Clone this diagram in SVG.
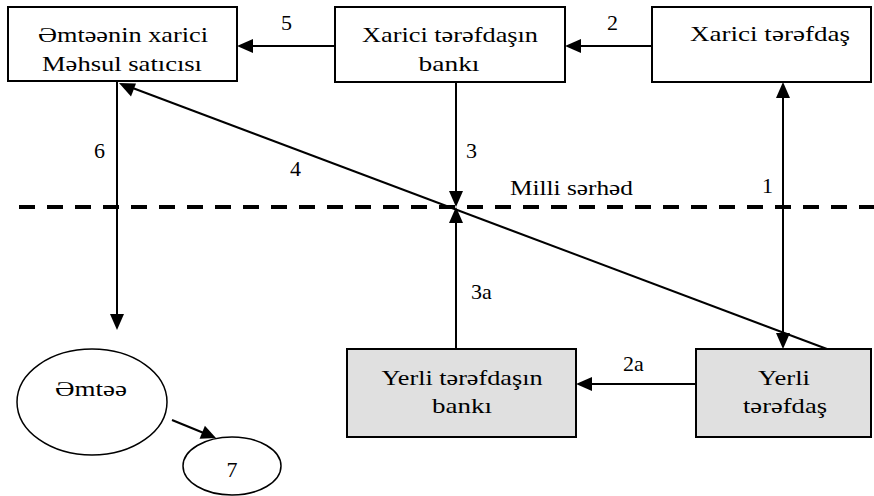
<svg xmlns="http://www.w3.org/2000/svg" width="874" height="496" viewBox="0 0 874 496">
<line x1="19" y1="207" x2="874" y2="207" stroke="#000" stroke-width="4" stroke-dasharray="16 12"/>
<text x="510" y="195" font-family="Liberation Serif" font-size="22" textLength="123" lengthAdjust="spacingAndGlyphs">Milli sərhəd</text>
<g id="connectors" stroke="#000" stroke-width="2" fill="none">
<line x1="335" y1="46" x2="250" y2="46"/>
<polygon points="237,46 253,39 253,53" fill="#000" stroke="none"/>
<line x1="652" y1="46" x2="578" y2="46"/>
<polygon points="565,46 581,39 581,53" fill="#000" stroke="none"/>
<line x1="783" y1="95" x2="783" y2="336"/>
<polygon points="783,82 776,98 790,98" fill="#000" stroke="none"/>
<polygon points="783,349 776,333 790,333" fill="#000" stroke="none"/>
<line x1="456" y1="82" x2="456" y2="195"/>
<polygon points="456,207 449,191 463,191" fill="#000" stroke="none"/>
<line x1="456" y1="349" x2="456" y2="219"/>
<polygon points="456,207 449,223 463,223" fill="#000" stroke="none"/>
<line x1="827" y1="349" x2="130" y2="87"/>
<polygon points="119,83 136,83.5 131,96.6" fill="#000" stroke="none"/>
<line x1="117" y1="82" x2="117" y2="318"/>
<polygon points="117,330 110,314 124,314" fill="#000" stroke="none"/>
<line x1="696" y1="384" x2="589" y2="384"/>
<polygon points="576,384 592,377 592,391" fill="#000" stroke="none"/>
<line x1="172" y1="420" x2="205" y2="433.5"/>
<polygon points="216,438 199.6,438.7 204.9,425.7" fill="#000" stroke="none"/>
</g>
<g id="labels" font-family="Liberation Serif" font-size="22" fill="#000">
<text x="281" y="30">5</text>
<text x="607" y="30">2</text>
<text x="762" y="193">1</text>
<text x="466" y="158">3</text>
<text x="471" y="299">3a</text>
<text x="94" y="158">6</text>
<text x="290" y="176">4</text>
<text x="623" y="371">2a</text>
</g>
<g id="n-satici">
<rect x="8" y="7" width="229" height="74" fill="#fff" stroke="#000" stroke-width="2"/>
<text x="123" y="42" font-family="Liberation Serif" font-size="22" text-anchor="middle" textLength="170" lengthAdjust="spacingAndGlyphs">Əmtəənin xarici</text>
<text x="122" y="71" font-family="Liberation Serif" font-size="22" text-anchor="middle" textLength="160" lengthAdjust="spacingAndGlyphs">Məhsul satıcısı</text>
</g>
<g id="n-xbank">
<rect x="335" y="7" width="230" height="75" fill="#fff" stroke="#000" stroke-width="2"/>
<text x="450" y="42" font-family="Liberation Serif" font-size="22" text-anchor="middle" textLength="176" lengthAdjust="spacingAndGlyphs">Xarici tərəfdaşın</text>
<text x="449" y="71" font-family="Liberation Serif" font-size="22" text-anchor="middle" textLength="61" lengthAdjust="spacingAndGlyphs">bankı</text>
</g>
<g id="n-xteref">
<rect x="652" y="7" width="219" height="75" fill="#fff" stroke="#000" stroke-width="2"/>
<text x="770" y="41" font-family="Liberation Serif" font-size="22" text-anchor="middle" textLength="160" lengthAdjust="spacingAndGlyphs">Xarici tərəfdaş</text>
</g>
<g id="n-ybank">
<rect x="347" y="349" width="229" height="88" fill="#e0e0e0" stroke="#000" stroke-width="2"/>
<text x="462" y="385" font-family="Liberation Serif" font-size="22" text-anchor="middle" textLength="161" lengthAdjust="spacingAndGlyphs">Yerli tərəfdaşın</text>
<text x="462" y="413" font-family="Liberation Serif" font-size="22" text-anchor="middle" textLength="60" lengthAdjust="spacingAndGlyphs">bankı</text>
</g>
<g id="n-yteref">
<rect x="696" y="349" width="175" height="88" fill="#e0e0e0" stroke="#000" stroke-width="2"/>
<text x="784" y="385" font-family="Liberation Serif" font-size="22" text-anchor="middle" textLength="52" lengthAdjust="spacingAndGlyphs">Yerli</text>
<text x="785" y="413" font-family="Liberation Serif" font-size="22" text-anchor="middle" textLength="84" lengthAdjust="spacingAndGlyphs">tərəfdaş</text>
</g>
<g id="n-emtee">
<ellipse cx="92" cy="402" rx="75" ry="53" fill="#fff" stroke="#000" stroke-width="1.5"/>
<text x="91" y="396" font-family="Liberation Serif" font-size="22" text-anchor="middle" textLength="72" lengthAdjust="spacingAndGlyphs">Əmtəə</text>
</g>
<g id="n-7">
<ellipse cx="232" cy="466" rx="49" ry="29" fill="#fff" stroke="#000" stroke-width="1.5"/>
<text x="232" y="477" font-family="Liberation Serif" font-size="22" text-anchor="middle">7</text>
</g>
</svg>
